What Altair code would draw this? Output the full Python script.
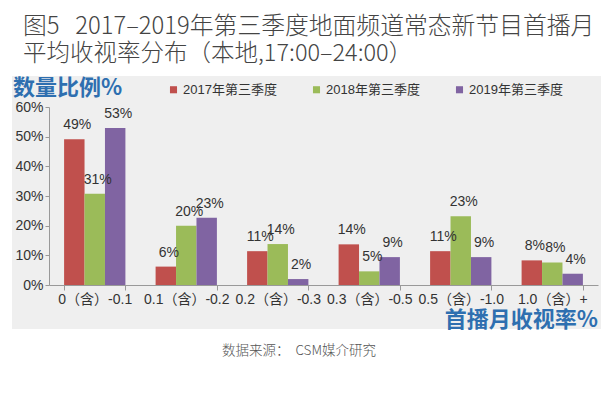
import altair as alt
import pandas as pd

categories = ["0（含）-0.1", "0.1（含）-0.2", "0.2（含）-0.3", "0.3（含）-0.5", "0.5（含）-1.0", "1.0（含）+"]
series = ["2017年第三季度", "2018年第三季度", "2019年第三季度"]
v2017 = [0.491, 0.062, 0.114, 0.137, 0.114, 0.083]
v2018 = [0.308, 0.200, 0.138, 0.046, 0.232, 0.076]
v2019 = [0.529, 0.227, 0.020, 0.094, 0.094, 0.038]
y_ticks = [0, 0.1, 0.2, 0.3, 0.4, 0.5, 0.6]
colors = ["#c0504d", "#9bbb59", "#8064a2"]

title1 = "图5\u00a0\u00a0\u00a02017–2019年第三季度地面频道常态新节目首播月"
title2 = "平均收视率分布（本地,17:00–24:00）"
ytitle = "数量比例%"
xtitle = "首播月收视率%"
source = "数据来源：\u00a0\u00a0CSM媒介研究"

rows = []
for s, vals in zip(series, [v2017, v2018, v2019]):
    for c, v in zip(categories, vals):
        rows.append({"cat": c, "series": s, "value": v})
df = pd.DataFrame(rows)

W, H = 549, 178
LATIN = "Liberation Sans, Noto Sans CJK SC, sans-serif"
CJK = "Noto Sans CJK SC, sans-serif"
BLUE = "#2e6fb0"

one = alt.Data(values=[{"a": 1}])

panel = alt.Chart(one).mark_rect(color="#efefef").encode(
    x=alt.value(-37), x2=alt.value(552), y=alt.value(-31), y2=alt.value(222)
)

xscale = alt.Scale(paddingInner=0.33, paddingOuter=0.165)
yscale = alt.Scale(domain=[0, 0.6], nice=False)

xaxis = alt.Axis(labelAngle=0, tickBand="extent", tickSize=5,
                 labelPadding=2, domainColor="#999", tickColor="#999",
                 labelFontSize=14, labelColor="#333", labelFont=LATIN,
                 labelOverlap=False, zindex=1)
yaxis = alt.Axis(format=".0%", values=y_ticks,
                 grid=False, tickSize=4, labelPadding=2,
                 domainColor="#999", tickColor="#999",
                 labelFontSize=14, labelColor="#333", labelFont=LATIN,
                 labelOverlap=False, labelBound=False, zindex=1)

xenc = alt.X("cat:N", sort=categories, title=None, scale=xscale, axis=xaxis)
yenc = alt.Y("value:Q", title=None, scale=yscale, axis=yaxis)
xoff = alt.XOffset("series:N", sort=series, scale=alt.Scale(paddingInner=0, paddingOuter=0))

bars = alt.Chart(df).mark_bar().encode(
    x=xenc, y=yenc, xOffset=xoff,
    color=alt.Color("series:N", sort=series, scale=alt.Scale(domain=series, range=colors),
                    legend=alt.Legend(title=None, orient="none", direction="horizontal",
                                      legendX=118, legendY=-24, symbolType="square",
                                      symbolSize=50, symbolStrokeWidth=0,
                                      labelFontSize=13, labelColor="#333", labelFont=LATIN,
                                      columnPadding=33, labelOffset=3, zindex=1)),
)

labels = alt.Chart(df).mark_text(dx=3, dy=-14, baseline="middle", fontSize=14,
                                 font=LATIN, color="#333").encode(
    x=xenc, y=yenc, xOffset=xoff,
    text=alt.Text("value:Q", format=".0%"),
)

def ann(text, x, y, **kw):
    return alt.Chart(one).mark_text(**kw).encode(
        x=alt.value(x), y=alt.value(y), text=alt.value(text))

t1 = ann(title1, -26, -80, align="left", baseline="middle", fontSize=23.8, font=CJK,
         fontWeight=300, color="#444")
t2 = ann(title2, -26, -53, align="left", baseline="middle", fontSize=23.5, font=CJK,
         fontWeight=300, color="#444")
yt = ann(ytitle, -36, -19, align="left", baseline="middle", fontSize=22, font=CJK,
         fontWeight="bold", color=BLUE)
xt = ann(xtitle, 549, 213, align="right", baseline="middle", fontSize=22, font=CJK,
         fontWeight="bold", color=BLUE)
src = ann(source, 250, 244, align="center", baseline="middle", fontSize=13.5, font=CJK,
          fontWeight=300, color="#555")

chart = alt.layer(panel, bars, labels, t1, t2, yt, xt, src).properties(
    width=W, height=H,
    autosize=alt.AutoSizeParams(type="none"),
    padding={"left": 41, "top": 99, "right": 10, "bottom": 100},
    background="white",
).configure_view(stroke=None)

chart.save("out.html", embed_options={"renderer": "svg", "actions": False})
